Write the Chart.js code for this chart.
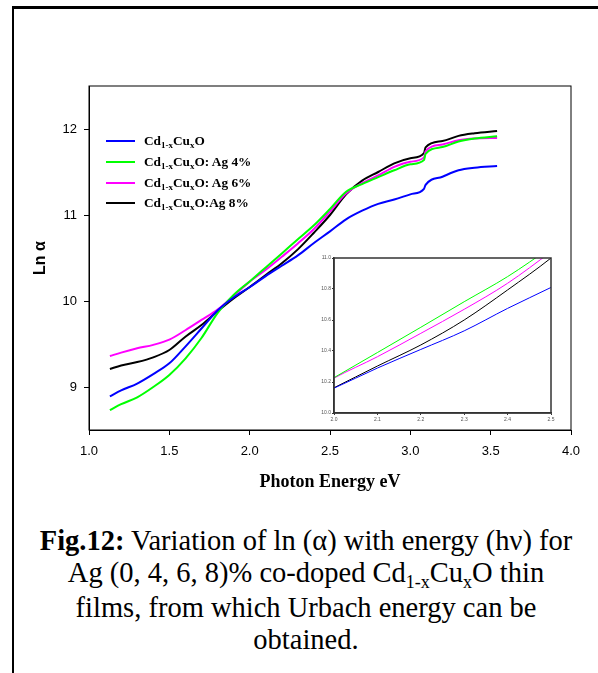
<!DOCTYPE html>
<html>
<head>
<meta charset="utf-8">
<script src="https://cdn.jsdelivr.net/npm/chart.js@4.4.0/dist/chart.umd.min.js"></script>
<style>
  body { margin: 0; background: #fff; width: 598px; height: 673px; overflow: hidden; position: relative; }
  #marco { position: absolute; left: 12px; top: 6px; width: 620px; height: 700px; border-left: 2px solid #000; border-top: 3px solid #000; }
  #grafico { position: absolute; left: 0; top: 0; }
  #inserto { position: absolute; left: 300px; top: 240px; }
  #leyenda { position: absolute; left: 106px; top: 131px; font: bold 13.3px "Liberation Serif"; color: #000; }
  .fila { height: 20.7px; display: flex; align-items: center; white-space: nowrap; }
  .muestra { width: 29px; height: 2px; margin-right: 9px; }
  sub { font-size: 9px; vertical-align: baseline; position: relative; top: 3px; }
  #pie { position: absolute; left: 14px; width: 584px; top: 525px; text-align: center; font: 28.5px "Liberation Serif"; line-height: 31.7px; white-space: nowrap; color: #000; }
</style>
</head>
<body>
<div id="marco"></div>
<canvas id="grafico" width="598" height="500"></canvas>
<canvas id="inserto" width="260" height="190"></canvas>
<div id="leyenda"></div>
<div id="pie">
  <b>Fig.12:</b> Variation of ln (α) with energy (hν) for<br>
  Ag (0, 4, 6, 8)% co-doped Cd<sub style="font-size:18px;top:6px">1-x</sub>Cu<sub style="font-size:18px;top:6px">x</sub>O thin<br>
  films, from which Urbach energy can be<br>
  obtained.
</div>
<script>
// energía del fotón (eV) y ln(alfa) de cada película
const energia = [1.13, 1.2, 1.3, 1.4, 1.5, 1.6, 1.7, 1.8, 1.9, 2.0, 2.1, 2.2, 2.3, 2.4, 2.5, 2.6, 2.7, 2.8, 2.9, 3.0, 3.085, 3.095, 3.2, 3.3, 3.4, 3.54];
const lnSinAg = [8.89, 8.96, 9.04, 9.15, 9.275, 9.47, 9.68, 9.89, 10.04, 10.16, 10.29, 10.41, 10.53, 10.675, 10.81, 10.95, 11.05, 11.13, 11.18, 11.24, 11.305, 11.35, 11.445, 11.52, 11.55, 11.57];
const lnAg4 = [8.73, 8.80, 8.88, 9.00, 9.14, 9.33, 9.57, 9.86, 10.07, 10.228, 10.39, 10.553, 10.718, 10.88, 11.07, 11.27, 11.36, 11.44, 11.52, 11.59, 11.64, 11.71, 11.79, 11.855, 11.89, 11.915];
const lnAg6 = [9.36, 9.40, 9.45, 9.49, 9.55, 9.66, 9.78, 9.90, 10.06, 10.225, 10.363, 10.514, 10.669, 10.837, 11.04, 11.25, 11.37, 11.46, 11.56, 11.62, 11.67, 11.74, 11.82, 11.87, 11.89, 11.895];
const lnAg8 = [9.21, 9.25, 9.29, 9.345, 9.43, 9.585, 9.72, 9.88, 10.03, 10.163, 10.303, 10.439, 10.60, 10.794, 11.0, 11.24, 11.40, 11.50, 11.60, 11.66, 11.72, 11.787, 11.86, 11.92, 11.95, 11.977];

const nombres = ['Cd<sub>1-x</sub>Cu<sub>x</sub>O', 'Cd<sub>1-x</sub>Cu<sub>x</sub>O: Ag 4%', 'Cd<sub>1-x</sub>Cu<sub>x</sub>O: Ag 6%', 'Cd<sub>1-x</sub>Cu<sub>x</sub>O:Ag 8%'];
const colores = ['#0000ff', '#00ff00', '#ff00ff', '#000000'];
const series = [lnSinAg, lnAg4, lnAg6, lnAg8];

// marcas de los ejes
const marcasX = [1.0, 1.5, 2.0, 2.5, 3.0, 3.5, 4.0];
const marcasY = [9, 10, 11, 12];
const marcasXInserto = [2.0, 2.1, 2.2, 2.3, 2.4, 2.5];
const marcasYInserto = [10.0, 10.2, 10.4, 10.6, 10.8, 11.0];

// recuadro completo alrededor del área de la gráfica
const marcoCompleto = {
  id: 'marcoCompleto',
  afterDraw(chart, args, opts) {
    const { ctx, chartArea: a } = chart;
    ctx.save();
    ctx.strokeStyle = opts.color;
    ctx.lineWidth = opts.ancho;
    ctx.strokeRect(a.left, a.top, a.right - a.left, a.bottom - a.top);
    ctx.restore();
  }
};

function armarDatasets(grosor) {
  return series.map((s, i) => ({
    label: nombres[i].replace(/<[^>]+>/g, ''),
    data: energia.map((e, k) => ({ x: e, y: s[k] })),
    borderColor: colores[i],
    borderWidth: grosor,
    pointRadius: 0,
    fill: false,
    cubicInterpolationMode: 'monotone'
  }));
}

const fuenteEje = { family: 'Liberation Sans', size: 13 };

const ctx = document.getElementById('grafico').getContext('2d');
const chart = new Chart(ctx, {
  type: 'line',
  data: { datasets: armarDatasets(2) },
  options: {
    responsive: false,
    animation: false,
    layout: { padding: { left: 0, right: 27, top: 86, bottom: 0 } },
    plugins: {
      legend: { display: false },
      tooltip: { enabled: false },
      marcoCompleto: { color: '#000', ancho: 1 }
    },
    scales: {
      x: {
        type: 'linear', min: 1.0, max: 4.0,
        afterBuildTicks: s => { s.ticks = marcasX.map(v => ({ value: v })); },
        afterFit: s => { s.height = 70; },
        grid: { drawOnChartArea: false, tickLength: 5, color: '#000' },
        border: { color: '#000' },
        ticks: { font: fuenteEje, color: '#000', padding: 9, maxRotation: 0, callback: v => v.toFixed(1) },
        title: { display: true, text: 'Photon Energy eV', color: '#000',
                 font: { family: 'Liberation Serif', size: 18, weight: 'bold' }, padding: { top: 0, bottom: 7 } }
      },
      y: {
        type: 'linear', min: 8.5, max: 12.5,
        afterBuildTicks: s => { s.ticks = marcasY.map(v => ({ value: v })); },
        afterFit: s => { s.width = 89; },
        grid: { drawOnChartArea: false, tickLength: 5, color: '#000' },
        border: { color: '#000' },
        ticks: { font: fuenteEje, color: '#000', padding: 7 },
        title: { display: true, text: 'Ln α', color: '#000',
                 font: { family: 'Liberation Sans', size: 16, weight: 'bold' }, padding: { top: 31, bottom: 0 } }
      }
    }
  },
  plugins: [marcoCompleto]
});

// gráfica ampliada entre 2.0 y 2.5 eV
const fuenteInserto = { family: 'Liberation Sans', size: 5 };
const ctx2 = document.getElementById('inserto').getContext('2d');
const inserto = new Chart(ctx2, {
  type: 'line',
  data: { datasets: armarDatasets(1) },
  options: {
    responsive: false,
    animation: false,
    layout: { padding: { left: 0, right: 9, top: 18, bottom: 0 } },
    plugins: {
      legend: { display: false },
      tooltip: { enabled: false },
      marcoCompleto: { color: '#333', ancho: 1.5 }
    },
    scales: {
      x: {
        type: 'linear', min: 2.0, max: 2.5,
        afterBuildTicks: s => { s.ticks = marcasXInserto.map(v => ({ value: v })); },
        afterFit: s => { s.height = 17; },
        grid: { drawOnChartArea: false, tickLength: 2, color: '#333' },
        border: { color: '#333', width: 1.5 },
        ticks: { font: fuenteInserto, color: '#555', padding: 2, maxRotation: 0, callback: v => v.toFixed(1) }
      },
      y: {
        type: 'linear', min: 10.0, max: 11.0,
        afterBuildTicks: s => { s.ticks = marcasYInserto.map(v => ({ value: v })); },
        afterFit: s => { s.width = 34; },
        grid: { drawOnChartArea: false, tickLength: 2, color: '#333' },
        border: { color: '#333', width: 1.5 },
        ticks: { font: fuenteInserto, color: '#555', padding: 1, callback: v => v.toFixed(1) }
      }
    }
  },
  plugins: [marcoCompleto]
});

// leyenda con subíndices
const leyenda = document.getElementById('leyenda');
nombres.forEach((n, i) => {
  const fila = document.createElement('div');
  fila.className = 'fila';
  fila.innerHTML = '<span class="muestra" style="background:' + colores[i] + '"></span><span>' + n + '</span>';
  leyenda.appendChild(fila);
});
</script>
</body>
</html>
